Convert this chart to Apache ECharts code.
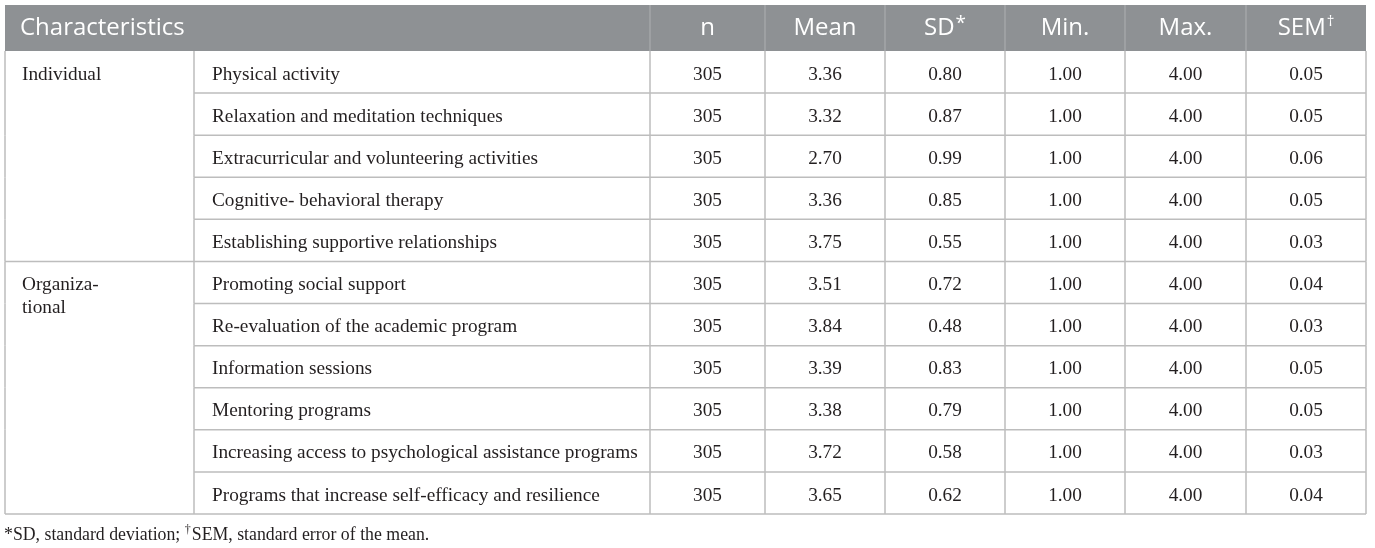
<!DOCTYPE html>
<html>
<head>
<meta charset="utf-8">
<script src="https://cdn.jsdelivr.net/npm/echarts@6/dist/echarts.min.js"></script>
<style>
html,body{margin:0;padding:0;background:#fff;}
#chart{width:1375px;height:548px;}
</style>
</head>
<body>
<div id="chart"></div>
<script>
// ---- data ----
const headers = ['Characteristics', 'n', 'Mean', 'SD', 'Min.', 'Max.', 'SEM'];
const groupNames = ['Individual', 'Organiza-\ntional'];
const rowGroup = [0, 0, 0, 0, 0, 1, 1, 1, 1, 1, 1];
const items = [
  'Physical activity',
  'Relaxation and meditation techniques',
  'Extracurricular and volunteering activities',
  'Cognitive- behavioral therapy',
  'Establishing supportive relationships',
  'Promoting social support',
  'Re-evaluation of the academic program',
  'Information sessions',
  'Mentoring programs',
  'Increasing access to psychological assistance programs',
  'Programs that increase self-efficacy and resilience'
];
const nValues = [305, 305, 305, 305, 305, 305, 305, 305, 305, 305, 305];
const meanValues = [3.36, 3.32, 2.70, 3.36, 3.75, 3.51, 3.84, 3.39, 3.38, 3.72, 3.65];
const sdValues = [0.80, 0.87, 0.99, 0.85, 0.55, 0.72, 0.48, 0.83, 0.79, 0.58, 0.62];
const minValues = [1.00, 1.00, 1.00, 1.00, 1.00, 1.00, 1.00, 1.00, 1.00, 1.00, 1.00];
const maxValues = [4.00, 4.00, 4.00, 4.00, 4.00, 4.00, 4.00, 4.00, 4.00, 4.00, 4.00];
const semValues = [0.05, 0.05, 0.06, 0.05, 0.03, 0.04, 0.03, 0.05, 0.05, 0.03, 0.04];

// ---- layout ----
const TABLE_LEFT = 5, TABLE_TOP = 5, HEADER_H = 46, TABLE_RIGHT = 1366, TABLE_BOTTOM = 514;
const colEdges = [0, 189, 645, 760, 880, 1000, 1120, 1241, 1361]; // relative to table left
const LINE = '#bdbdbd';
const HEADER_BG = '#8e9194';
const TEXT = '#231f20';
const SERIF = '"Liberation Serif", "DejaVu Serif", serif';
const SANS = '"Open Sans", "Noto Sans", sans-serif';
const BODY_FONT = '19.3px ' + SERIF;
const TEXT_SHIFT = 2.5;

const numCols = [nValues, meanValues, sdValues, minValues, maxValues, semValues];
const fmt = (v, ci) => ci === 0 ? String(v) : v.toFixed(2);

const chart = echarts.init(document.getElementById('chart'), null, {renderer: 'canvas'});

const rowCats = items.map((_, i) => String(i));

function renderItem(params, api) {
  const i = api.value(1);
  const c0 = api.coord([0, i]);
  const yc = c0[1];
  const h = api.size([0, 1])[1];
  const top = yc - h / 2, bot = yc + h / 2;
  const ty = yc + TEXT_SHIFT;
  const X = e => api.coord([e, i])[0];
  const children = [];
  const lineStyle = {stroke: LINE, lineWidth: 1.5};
  // vertical lines
  colEdges.forEach(e => {
    children.push({type: 'line', shape: {x1: X(e), y1: top, x2: X(e), y2: bot}, style: lineStyle});
  });
  // bottom horizontal line
  const lastOfGroup = (i === items.length - 1) || rowGroup[i + 1] !== rowGroup[i];
  const hx1 = lastOfGroup ? X(colEdges[0]) : X(colEdges[1]);
  children.push({type: 'line', shape: {x1: hx1, y1: bot, x2: X(colEdges[colEdges.length - 1]), y2: bot}, style: lineStyle});
  // group label on first row of group
  if (i === 0 || rowGroup[i - 1] !== rowGroup[i]) {
    children.push({type: 'text', x: X(colEdges[0]) + 17, y: ty - 11.5,
      style: {text: groupNames[rowGroup[i]], font: BODY_FONT, fill: TEXT,
        textAlign: 'left', textVerticalAlign: 'top', lineHeight: 23}});
  }
  // item label
  children.push({type: 'text', x: X(colEdges[1]) + 18, y: ty,
    style: {text: items[i], font: BODY_FONT, fill: TEXT, textAlign: 'left', textVerticalAlign: 'middle'}});
  // numbers
  numCols.forEach((arr, ci) => {
    const cx = (X(colEdges[ci + 2]) + X(colEdges[ci + 3])) / 2;
    children.push({type: 'text', x: cx, y: ty,
      style: {text: fmt(arr[i], ci), font: BODY_FONT, fill: TEXT, textAlign: 'center', textVerticalAlign: 'middle'}});
  });
  return {type: 'group', children};
}

// header graphics
const headerGraphics = [];
headerGraphics.push({type: 'rect', left: TABLE_LEFT, top: TABLE_TOP,
  shape: {x: 0, y: 0, width: TABLE_RIGHT - TABLE_LEFT, height: HEADER_H}, style: {fill: HEADER_BG}, z: 10});
for (let k = 2; k < colEdges.length - 1; k++) {
  headerGraphics.push({type: 'line', shape: {x1: TABLE_LEFT + colEdges[k], y1: TABLE_TOP, x2: TABLE_LEFT + colEdges[k], y2: TABLE_TOP + HEADER_H},
    style: {stroke: '#a9acae', lineWidth: 1.2}, z: 11});
}
const headerY = TABLE_TOP + HEADER_H / 2 + 0.5;
headerGraphics.push({type: 'text', x: TABLE_LEFT + 15, y: headerY, z: 12,
  style: {text: headers[0], font: '24px ' + SANS, fill: '#ffffff', textAlign: 'left', textVerticalAlign: 'middle'}});
const sups = {3: '*', 6: '\u2020'};
for (let k = 1; k < headers.length; k++) {
  const cx = TABLE_LEFT + (colEdges[k + 1] + colEdges[k + 2]) / 2;
  const txt = sups[k] ? '{m|' + headers[k] + '}{s|' + sups[k] + '}' : '{m|' + headers[k] + '}';
  headerGraphics.push({type: 'text', x: cx, y: headerY, z: 12,
    style: {text: txt, textAlign: 'center', textVerticalAlign: 'middle',
      rich: {
        m: {font: '24px ' + SANS, fill: '#ffffff', lineHeight: 28, verticalAlign: 'middle'},
        s: {font: (k === 3 ? '19px ' : '15px ') + SANS, fill: '#ffffff', lineHeight: 28, verticalAlign: 'top', padding: [0, 0, 8, 1]}
      }}});
}
// footnote
headerGraphics.push({type: 'text', x: TABLE_LEFT - 1, y: 535, z: 12,
  style: {text: '{m|*SD, standard deviation; }{s|\u2020}{m|SEM, standard error of the mean.}',
    textAlign: 'left', textVerticalAlign: 'middle',
    rich: {
      m: {font: '17.8px ' + SERIF, fill: TEXT, lineHeight: 22, verticalAlign: 'middle'},
      s: {font: '12px ' + SERIF, fill: TEXT, lineHeight: 22, verticalAlign: 'top', padding: [0, 1, 6, 0]}
    }}});

const option = {
  backgroundColor: '#ffffff',
  animation: false,
  grid: {left: TABLE_LEFT, right: 1375 - TABLE_RIGHT, top: TABLE_TOP + HEADER_H, bottom: 548 - TABLE_BOTTOM, containLabel: false},
  xAxis: {type: 'value', min: 0, max: colEdges[colEdges.length - 1], show: false},
  yAxis: {type: 'category', data: rowCats, inverse: true, show: false},
  graphic: headerGraphics,
  series: [{
    type: 'custom',
    renderItem: renderItem,
    clip: false,
    data: items.map((_, i) => [0, i]),
    encode: {x: 0, y: 1}
  }]
};
chart.setOption(option);
</script>
</body>
</html>
